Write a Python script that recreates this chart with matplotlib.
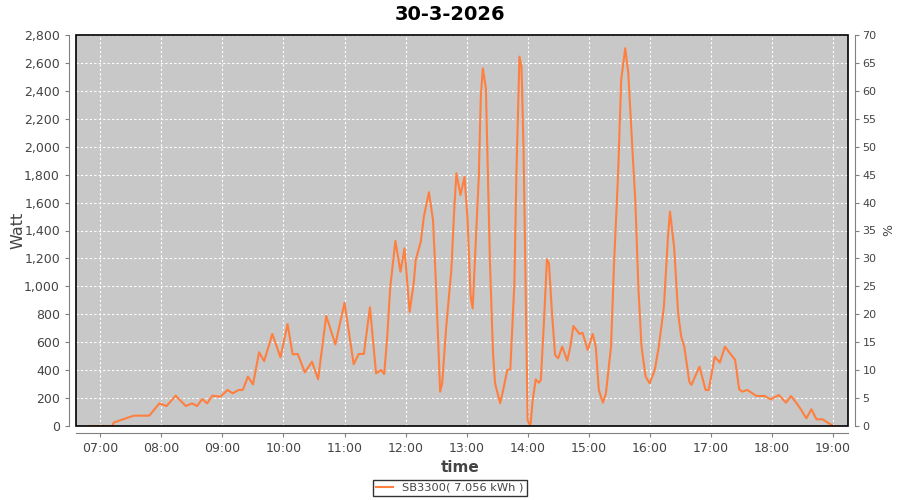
import pandas as pd
import matplotlib
matplotlib.use("Agg")
import matplotlib.pyplot as plt
import matplotlib.dates as mdates
from matplotlib.patches import Rectangle
from matplotlib.ticker import FuncFormatter, MultipleLocator


DAY = "2026-03-30"

# sample times and power (W)
times = [
    "06:49", "07:12", "07:13", "07:23", "07:33", "07:48", "07:58", "08:05", "08:14", "08:24",
    "08:30", "08:35", "08:40", "08:45", "08:50", "08:58", "09:05", "09:10", "09:16", "09:20",
    "09:25", "09:30", "09:36", "09:41", "09:49", "09:57", "10:04", "10:09", "10:14", "10:21",
    "10:28", "10:34", "10:42", "10:51", "11:00", "11:09", "11:14", "11:19", "11:25", "11:31",
    "11:36", "11:39", "11:42", "11:45", "11:50", "11:55", "11:59", "12:04", "12:08", "12:10",
    "12:15", "12:18", "12:23", "12:27", "12:30", "12:34", "12:36", "12:40", "12:45", "12:48",
    "12:50", "12:54", "12:58", "13:01", "13:04", "13:06", "13:09", "13:12", "13:14", "13:16",
    "13:19", "13:21", "13:23", "13:26", "13:28", "13:33", "13:36", "13:40", "13:43", "13:47",
    "13:49", "13:52", "13:54", "13:56", "13:58", "14:00", "14:02", "14:03", "14:05", "14:08",
    "14:11", "14:13", "14:16", "14:19", "14:21", "14:24", "14:27", "14:30", "14:34", "14:39",
    "14:42", "14:45", "14:51", "14:54", "14:59", "15:04", "15:07", "15:10", "15:14", "15:17",
    "15:22", "15:25", "15:29", "15:32", "15:36", "15:39", "15:42", "15:46", "15:49", "15:52",
    "15:56", "16:00", "16:05", "16:09", "16:14", "16:18", "16:20", "16:24", "16:28", "16:31",
    "16:34", "16:39", "16:41", "16:49", "16:55", "16:58", "17:04", "17:09", "17:14", "17:19",
    "17:24", "17:28", "17:31", "17:36", "17:45", "17:53", "17:59", "18:07", "18:14", "18:19",
    "18:25", "18:29", "18:34", "18:39", "18:44", "18:50", "18:55", "18:59",
]
watts = [
    0, 0, 24, 50, 74, 74, 162, 143, 217, 143,
    162, 143, 193, 162, 217, 210, 258, 234, 258, 258,
    353, 298, 528, 465, 659, 492, 730, 513, 516, 384,
    460, 334, 788, 585, 883, 442, 516, 516, 850, 377,
    401, 372, 640, 998, 1325, 1105, 1272, 818, 1022, 1189,
    1320, 1499, 1674, 1475, 998, 246, 306, 711, 1117, 1570,
    1810, 1654, 1785, 1475, 926, 843, 1308, 1785, 2358, 2561,
    2418, 1785, 1165, 521, 306, 163, 258, 401, 406, 1022,
    1810, 2645, 2573, 1976, 1046, 43, 7, 19, 186, 334,
    310, 329, 735, 1194, 1165, 807, 508, 485, 568, 468,
    568, 716, 659, 668, 544, 659, 568, 258, 167, 234,
    568, 1165, 1810, 2478, 2705, 2526, 2120, 1595, 974, 568,
    353, 306, 401, 568, 854, 1356, 1535, 1284, 807, 640,
    568, 317, 294, 425, 258, 258, 496, 454, 568, 521,
    473, 263, 246, 258, 215, 215, 191, 222, 167, 215,
    158, 115, 55, 120, 48, 48, 24, 7,
]

title = "30-3-2026"
series_label = "SB3300( 7.056 kWh )"
line_color = "#ff7f3f"
axis_grey = "#808080"
text_grey = "#444444"


def main():
    ts = pd.to_datetime([DAY + " " + t for t in times])

    fig = plt.figure(figsize=(9, 5), dpi=100)
    ax = fig.add_axes([76 / 900, 1 - 426 / 500, (848 - 76) / 900, (426 - 35) / 500])
    ax.set_facecolor("#c8c8c8")

    ax.plot(ts, watts, color=line_color, lw=1.5, zorder=3)

    ax.set_xlim(pd.Timestamp(DAY + " 06:36"), pd.Timestamp(DAY + " 19:15"))
    ax.set_ylim(0, 2800)
    ax.yaxis.set_major_locator(MultipleLocator(200))
    ax.yaxis.set_major_formatter(FuncFormatter(lambda v, p: "{:,.0f}".format(v)))
    ax.xaxis.set_major_locator(mdates.HourLocator())
    ax.xaxis.set_major_formatter(mdates.DateFormatter("%H:%M"))

    ax.grid(True, color="white", linestyle=(0, (2, 2)), lw=0.8)
    ax.set_axisbelow(True)

    for side in ["top", "right"]:
        ax.spines[side].set_visible(False)
    for side in ["left", "bottom"]:
        ax.spines[side].set_position(("outward", 5))
        ax.spines[side].set_color(axis_grey)
    ax.tick_params(colors=axis_grey, labelcolor=text_grey, labelsize=9, length=3)

    # black frame around the plot area
    ax.add_patch(Rectangle((0, 0), 1, 1, transform=ax.transAxes, fill=False,
                           edgecolor="black", lw=1.2, zorder=5, clip_on=False))

    ax2 = ax.twinx()
    ax2.set_ylim(0, 70)
    ax2.yaxis.set_major_locator(MultipleLocator(5))
    for side in ["top", "left", "bottom"]:
        ax2.spines[side].set_visible(False)
    ax2.spines["right"].set_position(("outward", 5))
    ax2.spines["right"].set_color(axis_grey)
    ax2.tick_params(colors=axis_grey, labelcolor=text_grey, labelsize=8, length=3, pad=2.5)

    ax.set_ylabel("Watt", fontsize=11.5, color=text_grey)
    ax.yaxis.set_label_coords(-0.065, 0.5)
    ax.set_xlabel("time", fontsize=11, fontweight="bold", color=text_grey)
    ax.xaxis.set_label_coords(0.497, -0.087)
    ax2.set_ylabel("%", fontsize=9, color=text_grey)
    ax2.yaxis.set_label_coords(1.044, 0.5)

    fig.text(0.5, 0.97, title, ha="center", va="center", fontsize=14, fontweight="bold")

    leg = fig.legend([ax.lines[0]], [series_label], loc="center",
                     bbox_to_anchor=(0.5, 0.024), fontsize=8.2, frameon=True,
                     fancybox=False, handlelength=1.5, borderpad=0.3, labelcolor=text_grey)
    leg.get_frame().set_edgecolor("black")
    leg.get_frame().set_linewidth(1.0)

    fig.savefig("out.png", dpi=100)


if __name__ == "__main__":
    main()
